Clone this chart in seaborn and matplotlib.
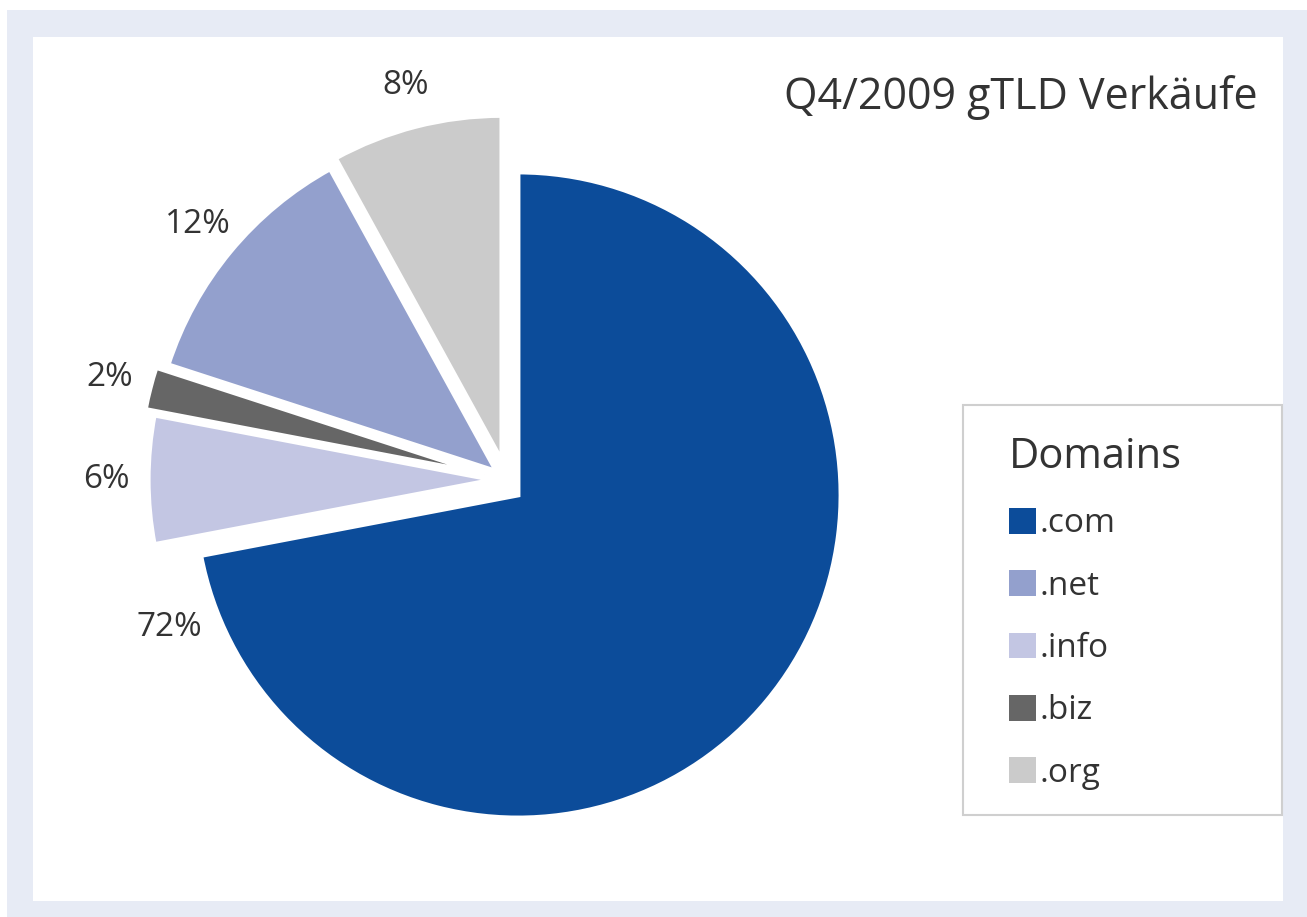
import matplotlib
matplotlib.use('Agg')
import numpy as np
import matplotlib.pyplot as plt
import seaborn as sns
from matplotlib.patches import Rectangle, Patch

# slices in clockwise drawing order, starting at 12 o'clock
domains = ['.com', '.info', '.biz', '.net', '.org']
shares = [72, 6, 2, 12, 8]
colors = ['#0c4c9a', '#c3c6e3', '#666666', '#93a0cd', '#cbcbcb']
legend_order = ['.com', '.net', '.info', '.biz', '.org']
title = 'Q4/2009 gTLD Verkäufe'
legend_title = 'Domains'

sns.set_theme(style='white')
plt.rcParams['font.family'] = ['Open Sans', 'DejaVu Sans']
text_color = '#333333'

W, H = 1307, 917
fig = plt.figure(figsize=(W / 100, H / 100), dpi=100)
fig.patch.set_facecolor('white')

# light blue frame + white panel
fig.patches.append(Rectangle((7 / W, 0), 1 - 7 / W, 1 - 10 / H, transform=fig.transFigure,
                             facecolor='#e7ebf5', edgecolor='none', zorder=-3))
fig.patches.append(Rectangle((33 / W, 16 / H), 1250 / W, 864 / H, transform=fig.transFigure,
                             facecolor='white', edgecolor='none', zorder=-2))

# pie axes: radius R px, centre (cx, cy) px from bottom-left
R = 323
cx, cy = 518, 422
ax = fig.add_axes([(cx - 1.5 * R) / W, (cy - 1.3 * R) / H, 3 * R / W, 2.7 * R / H])
ax.patch.set_alpha(0)

explode = [0, 0.04, 0.07, 0.04, 0.06]
wedges, _, pcts = ax.pie(shares, colors=colors, startangle=90, counterclock=False,
                         explode=explode, autopct=lambda p: f'{p:.0f}%',
                         wedgeprops=dict(edgecolor='white', linewidth=3.5),
                         textprops=dict(fontsize=24, color=text_color))
ax.set_xlim(-1.5, 1.5)
ax.set_ylim(-1.3, 1.4)

# small slices: pulled out together towards the upper left and drawn a bit larger
shift = np.array([-0.035, 0.047])
for w, t in zip(wedges[1:], pcts[1:]):
    c = np.array(w.center) + shift
    w.set_center(tuple(c))
    w.set_radius(1.07)
    th = np.deg2rad((w.theta1 + w.theta2) / 2)
    t.set_position(tuple(c + 1.2 * np.array([np.cos(th), np.sin(th)])))
# the big slice's label sits outside, on the left
pcts[0].set_position((-1.08, -0.41))

fig.text(1258 / W, 1 - 98 / H, title, ha='right', va='center', fontsize=31,
         color=text_color)

# legend box
fig.patches.append(Rectangle((963 / W, 102 / H), 319 / W, 410 / H, transform=fig.transFigure,
                             facecolor='white', edgecolor='#cfcfcf', linewidth=1.5, zorder=1))
color_of = dict(zip(domains, colors))
handles = [Patch(facecolor=color_of[d], edgecolor='none', label=d) for d in legend_order]
leg = fig.legend(handles=handles, title=legend_title, loc='upper left',
                 bbox_to_anchor=(1009 / W, 1 - 436 / H), frameon=False,
                 prop=dict(size=24), title_fontproperties=dict(size=30), alignment='left',
                 handlelength=0.8, handleheight=0.8, handletextpad=0.12,
                 labelspacing=0.88, borderpad=0, borderaxespad=0)
for t in leg.get_texts():
    t.set_color(text_color)
leg.get_title().set_color(text_color)
leg.set_zorder(2)

plt.savefig('out.png', dpi=100)
